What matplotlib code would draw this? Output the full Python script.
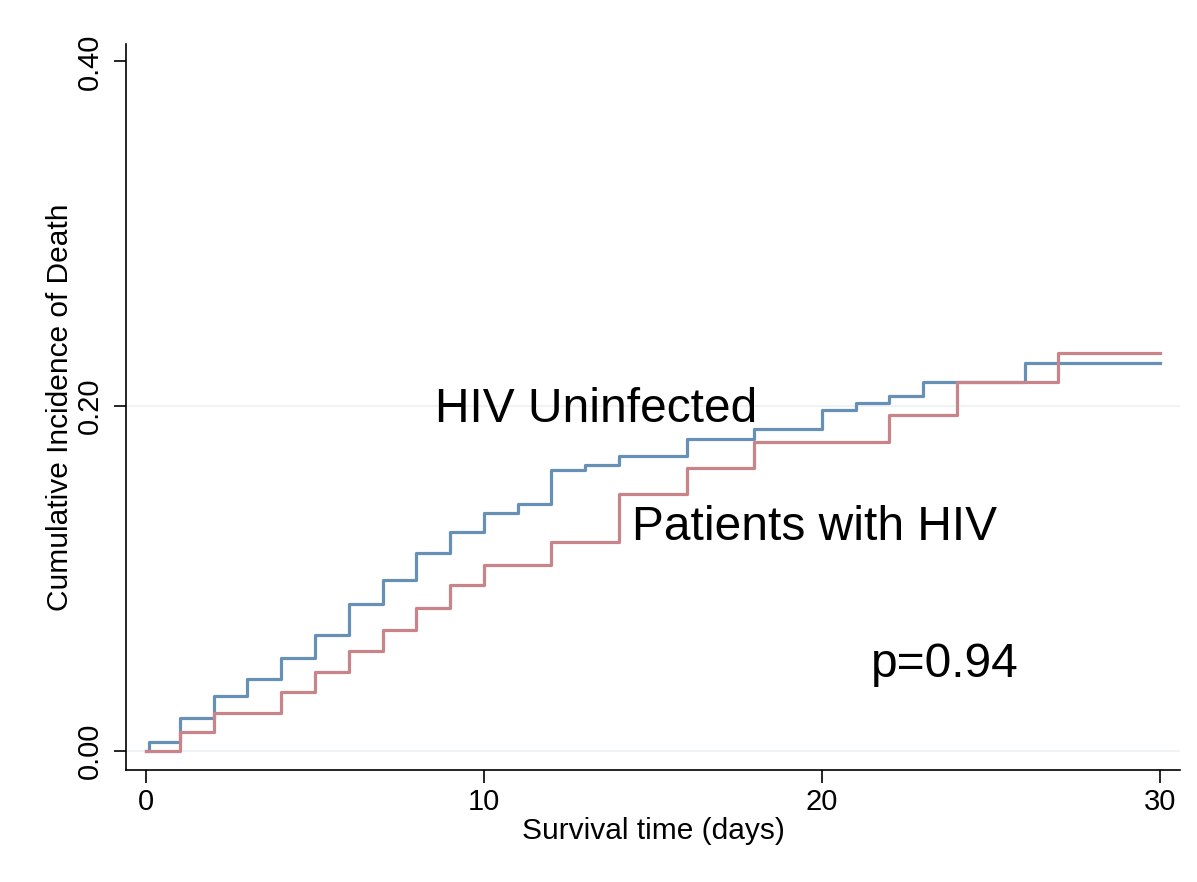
import matplotlib
matplotlib.use('Agg')
import matplotlib.pyplot as plt

# step times (days) and cumulative incidence
uninf_t = [0, 0.1, 1, 2, 3, 4, 5, 6, 7, 8, 9, 10, 11, 12, 13, 14, 16, 18, 20, 21, 22, 23, 26, 30]
uninf_v = [0, 0.005, 0.019, 0.032, 0.042, 0.054, 0.067, 0.085, 0.099, 0.115, 0.127, 0.138,
           0.143, 0.163, 0.166, 0.171, 0.181, 0.187, 0.198, 0.202, 0.206, 0.214, 0.225, 0.225]

hiv_t = [0, 1, 2, 4, 5, 6, 7, 8, 9, 10, 12, 14, 16, 18, 22, 24, 27, 30]
hiv_v = [0, 0.011, 0.022, 0.034, 0.046, 0.058, 0.070, 0.083, 0.096, 0.108, 0.121,
         0.149, 0.164, 0.179, 0.195, 0.214, 0.231, 0.231]

xticks = [0, 10, 20, 30]
yticks = [0.0, 0.2, 0.4]
ytick_labels = ['0.00', '0.20', '0.40']
grid_y = [0.0, 0.2]

plt.rcParams['font.family'] = ['Liberation Sans', 'DejaVu Sans']

fig = plt.figure(figsize=(11.97, 8.82), dpi=100)
ax = fig.add_axes([0.1053, 0.127, 0.8805, 0.823])

for y in grid_y:
    ax.axhline(y, color='#eff3f5', lw=1.5, zorder=0)

ax.plot(uninf_t, uninf_v, drawstyle='steps-post', color='#6690b6', lw=2.3)
ax.plot(hiv_t, hiv_v, drawstyle='steps-post', color='#c9848a', lw=2.3)

ax.text(8.55, 0.191, 'HIV Uninfected', fontsize=34.5, color='black')
ax.text(14.38, 0.1225, 'Patients with HIV', fontsize=34.5, color='black')
ax.text(21.45, 0.043, 'p=0.94', fontsize=34.5, color='black')

ax.set_xlim(-0.59, 30.6)
ax.set_ylim(-0.011, 0.41)
ax.set_xticks(xticks)
ax.set_yticks(yticks)
ax.set_yticklabels(ytick_labels, rotation=90, va='center')
ax.tick_params(axis='both', labelsize=21, length=9, width=1.2, direction='out')
ax.tick_params(axis='y', pad=7)
ax.tick_params(axis='x', pad=4)

ax.spines['top'].set_visible(False)
ax.spines['right'].set_visible(False)
ax.spines['left'].set_linewidth(1.2)
ax.spines['bottom'].set_linewidth(1.2)

ax.set_xlabel('Survival time (days)', fontsize=21.5, labelpad=1)
ax.set_ylabel('Cumulative Incidence of Death', fontsize=21.5, labelpad=1)

fig.savefig('out.png', dpi=100)
